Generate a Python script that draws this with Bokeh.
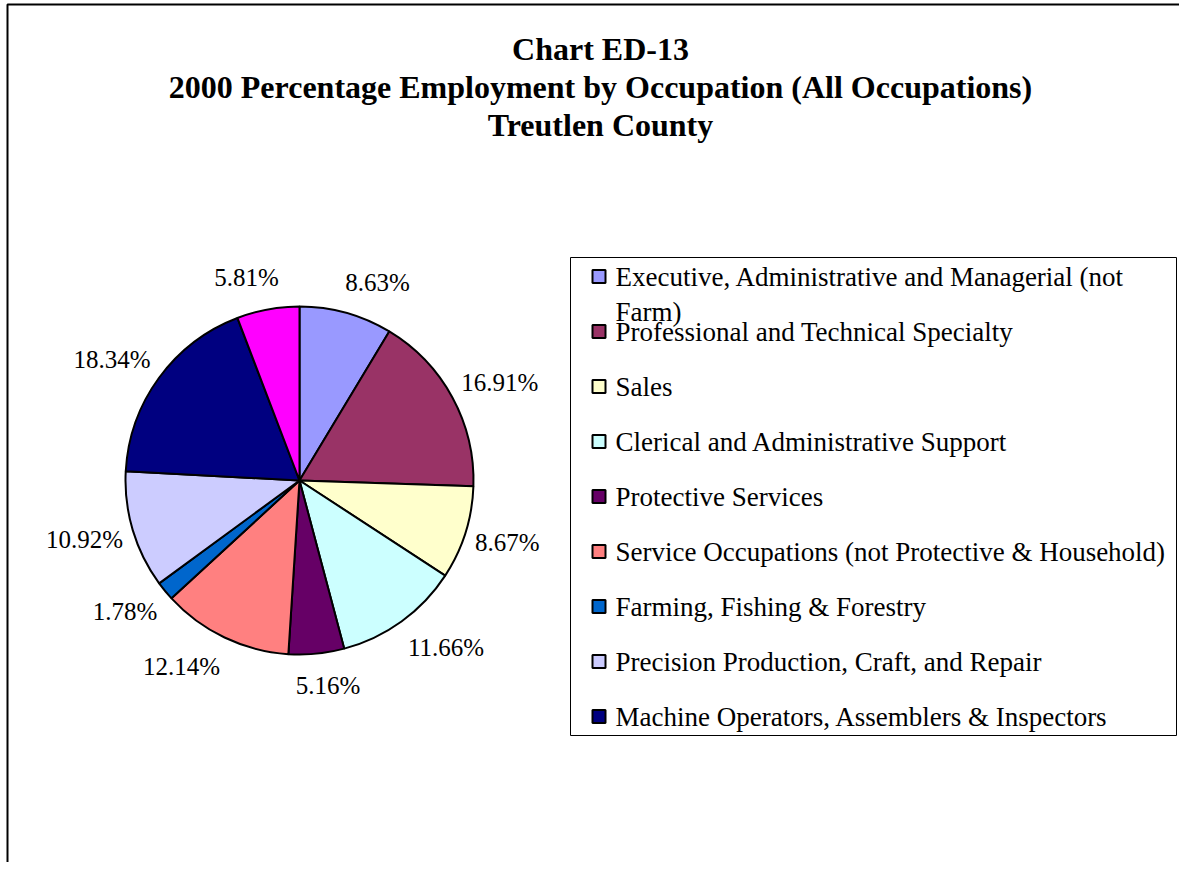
import math
from bokeh.plotting import figure
from bokeh.models import ColumnDataSource, Range1d
from bokeh.core.properties import value
from bokeh.embed import file_html
from bokeh.resources import INLINE

# ---------------- data ----------------
title_lines = [
    "Chart ED-13",
    "2000 Percentage Employment by Occupation (All Occupations)",
    "Treutlen County",
]
categories = [
    "Executive, Administrative and Managerial (not Farm)",
    "Professional and Technical Specialty",
    "Sales",
    "Clerical and Administrative Support",
    "Protective Services",
    "Service Occupations (not Protective & Household)",
    "Farming, Fishing & Forestry",
    "Precision Production, Craft, and Repair",
    "Machine Operators, Assemblers & Inspectors",
    "",  # unlabelled tenth slice (not shown in the legend)
]
legend_lines = [
    ["Executive, Administrative and Managerial (not", "Farm)"],
    ["Professional and Technical Specialty"],
    ["Sales"],
    ["Clerical and Administrative Support"],
    ["Protective Services"],
    ["Service Occupations (not Protective & Household)"],
    ["Farming, Fishing & Forestry"],
    ["Precision Production, Craft, and Repair"],
    ["Machine Operators, Assemblers & Inspectors"],
]
percentages = [8.63, 16.91, 8.67, 11.66, 5.16, 12.14, 1.78, 10.92, 18.34, 5.81]
colors = ["#9999FF", "#993366", "#FFFFCC", "#CCFFFF", "#660066",
          "#FF8080", "#0066CC", "#CCCCFF", "#000080", "#FF00FF"]

# ---------------- layout ----------------
W, H = 1179, 862


def X(sx):
    return sx


def Y(sy):
    return H - sy


FONT = "Liberation Serif"

p = figure(width=W, height=H, x_range=Range1d(0, W), y_range=Range1d(0, H),
           output_backend="svg", toolbar_location=None, min_border=0,
           x_axis_type=None, y_axis_type=None)
p.grid.visible = False
p.outline_line_color = None
p.background_fill_color = "white"
p.border_fill_color = "white"

# outer chart frame (top and left edges visible)
p.line(x=[X(7), X(7), W + 5], y=[-5, Y(4), Y(4)], line_color="black", line_width=2)

# ---------------- title ----------------
p.text(x=[X(600)] * 3, y=[Y(48.5), Y(86.5), Y(124.5)], text=title_lines,
       text_font=value(FONT), text_font_style="bold", text_font_size="32px",
       text_align="center", text_baseline="middle", text_color="black")

# ---------------- pie ----------------
cx, cy, R = X(299), Y(480), 174
total = sum(percentages)
starts, ends, mids = [], [], []
cum = 0.0
for v in percentages:
    a0 = cum / total
    cum += v
    a1 = cum / total
    starts.append(math.pi / 2 - 2 * math.pi * a0)
    ends.append(math.pi / 2 - 2 * math.pi * a1)
    mids.append(2 * math.pi * (a0 + a1) / 2)  # clockwise from 12 o'clock

pie_src = ColumnDataSource(dict(start=starts, end=ends, color=colors, cat=categories, pct=percentages))
p.wedge(x=cx, y=cy, radius=R, start_angle="start", end_angle="end", direction="clock",
        fill_color="color", line_color="black", line_width=2, source=pie_src)

# data labels outside the pie: anchored just outside the rim at the slice's mid angle,
# the label box extending away from the pie
lab_text = [f"{v:.2f}%" for v in percentages]
lx, ly = [], []
for t, th in zip(lab_text, mids):
    s, c = math.sin(th), math.cos(th)
    ax, ay = cx + (R + 10) * s, cy + (R + 10) * c
    half_w = len(t) * 6.45
    lx.append(ax + math.copysign(half_w * min(1.0, abs(s) / 0.3), s))
    ly.append(ay + c * 22)
p.text(x=lx, y=ly, text=lab_text, text_font=value(FONT), text_font_size="25px",
       text_align="center", text_baseline="middle", text_color="black")

# ---------------- legend ----------------
p.quad(left=X(570), right=X(1176), top=Y(257), bottom=Y(735),
       fill_color="white", line_color="black", line_width=1)
step = 55
n_leg = len(legend_lines)
p.rect(x=[X(598.5)] * n_leg, y=[Y(276 + step * i) for i in range(n_leg)],
       width=13, height=13, fill_color=colors[:n_leg], line_color="black", line_width=2)
tx, ty, tt = [], [], []
for i, lines in enumerate(legend_lines):
    for j, line in enumerate(lines):
        tx.append(X(615))
        ty.append(Y(276 + step * i + 35 * j))
        tt.append(line)
p.text(x=tx, y=ty, text=tt, text_font=value(FONT), text_font_size="27px",
       text_align="left", text_baseline="middle", text_color="black")

open("out.html", "w").write(file_html(p, INLINE))
